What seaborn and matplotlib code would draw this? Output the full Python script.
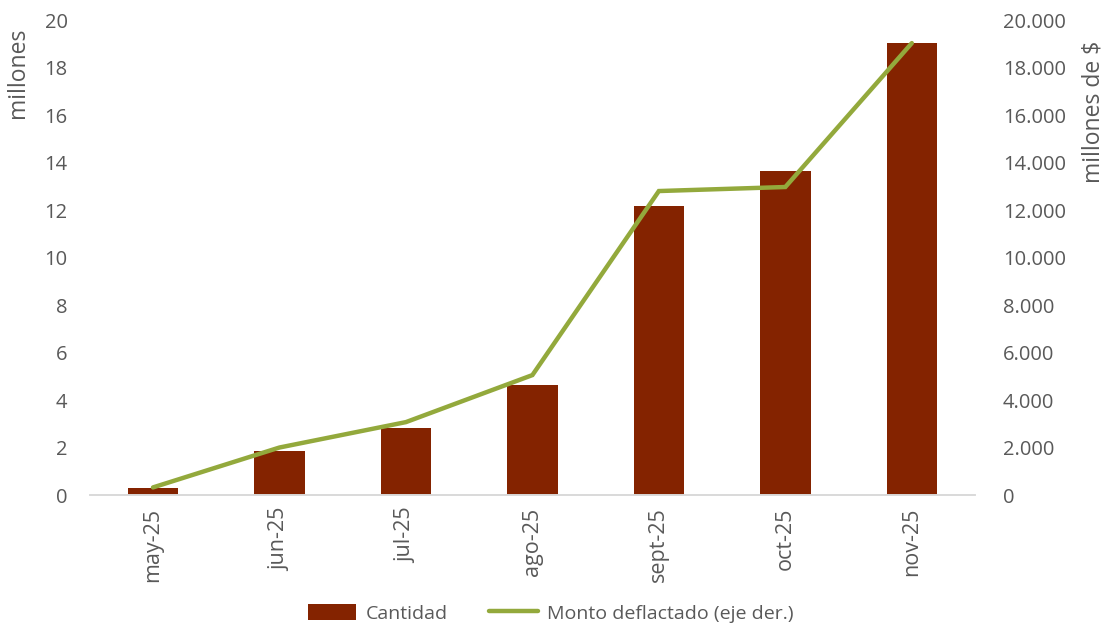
import numpy as np
import pandas as pd
import seaborn as sns
import matplotlib.pyplot as plt
from matplotlib.patches import Patch
from matplotlib.lines import Line2D

# data
meses = ['may-25', 'jun-25', 'jul-25', 'ago-25', 'sept-25', 'oct-25', 'nov-25']
cantidad = [0.30, 1.87, 2.82, 4.62, 12.17, 13.64, 19.02]            # millones
monto = [320, 2000, 3070, 5050, 12800, 12970, 19030]                # millones de $

bar_color = '#842300'
line_color = '#93A93C'
text_color = '#595959'
fs = 14

sns.set_theme(style='white')
plt.rcParams['font.family'] = ['Open Sans', 'DejaVu Sans']
plt.rcParams['text.color'] = text_color
plt.rcParams['axes.labelcolor'] = text_color
plt.rcParams['xtick.color'] = text_color
plt.rcParams['ytick.color'] = text_color

df = pd.DataFrame({'mes': meses, 'cantidad': cantidad, 'monto': monto})

fig = plt.figure(figsize=(11.08, 6.27), dpi=100)
ax = fig.add_axes([0.081, 0.2105, 0.799, 0.7575])

sns.barplot(data=df, x='mes', y='cantidad', color=bar_color, width=0.4,
            saturation=1, ax=ax, edgecolor='none')
ax.set_ylim(0, 20)
ax.set_yticks(range(0, 21, 2))
ax.set_xlim(-0.5, len(meses) - 0.5)
ax.set_xlabel('')
ax.set_ylabel('millones', fontsize=16.5, loc='top')
ax.yaxis.set_label_coords(-0.068, 0.985)
ax.tick_params(axis='y', labelsize=14.5, length=0, pad=16)
ax.tick_params(axis='x', labelsize=15.5, length=0, pad=9, rotation=90)

ax2 = ax.twinx()
sns.lineplot(x=np.arange(len(meses)), y=df['monto'], ax=ax2, color=line_color,
             linewidth=3.2, solid_capstyle='round', solid_joinstyle='miter')
ax2.set_ylim(0, 20000)
ax2.set_yticks(range(0, 20001, 2000))
ax2.set_yticklabels(['0'] + [f'{v // 1000}.000' for v in range(2000, 20001, 2000)])
ax2.set_ylabel('millones de $', fontsize=16.5, loc='top', rotation=90)
ax2.yaxis.set_label_coords(1.12, 0.956)
ax2.tick_params(axis='y', labelsize=14.5, length=0, pad=20)

for a in (ax, ax2):
    for s in ['top', 'left', 'right']:
        a.spines[s].set_visible(False)
    a.spines['bottom'].set_color('#d9d9d9')
    a.spines['bottom'].set_linewidth(1.2)
    a.grid(False)

handles = [Patch(facecolor=bar_color, edgecolor='none'),
           Line2D([0], [0], color=line_color, linewidth=3.2, solid_capstyle='round')]
fig.legend(handles, ['Cantidad', 'Monto deflactado (eje der.)'], loc='center',
           bbox_to_anchor=(0.497, 0.022), ncol=2, frameon=False, fontsize=fs,
           handlelength=2.5, handleheight=0.9, columnspacing=2.1, handletextpad=0.5)

fig.savefig('out.png', dpi=100)
